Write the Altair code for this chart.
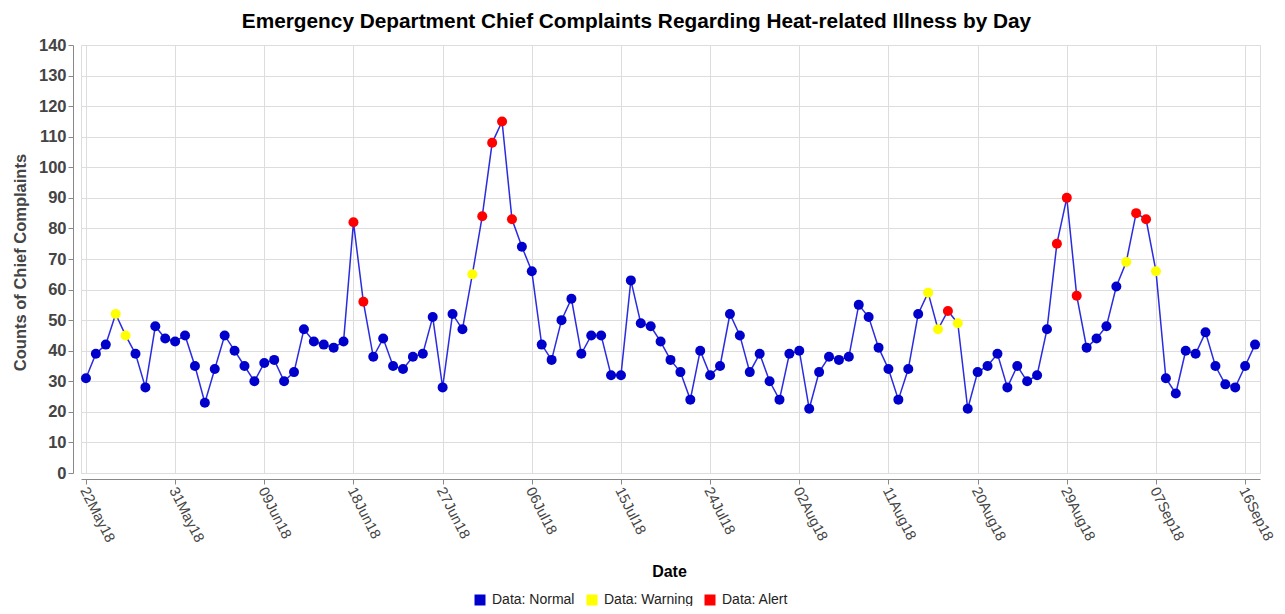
import altair as alt
import pandas as pd

# ---- data ----
start_date = "2018-05-22"
end_date = "2018-09-17"

counts_may = [31, 39, 42, 52, 45, 39, 28, 48, 44, 43]
counts_jun = [45, 35, 23, 34, 45, 40, 35, 30, 36, 37, 30, 33, 47, 43, 42,
              41, 43, 82, 56, 38, 44, 35, 34, 38, 39, 51, 28, 52, 47, 65]
counts_jul = [84, 108, 115, 83, 74, 66, 42, 37, 50, 57, 39, 45, 45, 32, 32,
              63, 49, 48, 43, 37, 33, 24, 40, 32, 35, 52, 45, 33, 39, 30, 24]
counts_aug = [39, 40, 21, 33, 38, 37, 38, 55, 51, 41, 34, 24, 34, 52, 59,
              47, 53, 49, 21, 33, 35, 39, 28, 35, 30, 32, 47, 75, 90, 58, 41]
counts_sep = [44, 48, 61, 69, 85, 83, 66, 31, 26, 40, 39, 46, 35, 29, 28, 35, 42]

warning_dates = ["2018-05-25", "2018-05-26", "2018-06-30", "2018-08-15",
                 "2018-08-16", "2018-08-18", "2018-09-04", "2018-09-07"]
alert_dates = ["2018-06-18", "2018-06-19", "2018-07-01", "2018-07-02",
               "2018-07-03", "2018-07-04", "2018-08-17", "2018-08-28",
               "2018-08-29", "2018-08-30", "2018-09-05", "2018-09-06"]

tick_dates = [(2018, 5, 22), (2018, 5, 31), (2018, 6, 9), (2018, 6, 18),
              (2018, 6, 27), (2018, 7, 6), (2018, 7, 15), (2018, 7, 24),
              (2018, 8, 2), (2018, 8, 11), (2018, 8, 20), (2018, 8, 29),
              (2018, 9, 7), (2018, 9, 16)]
y_ticks = list(range(0, 141, 10))

status_names = ["Data: Normal", "Data: Warning", "Data: Alert"]
status_colors = ["#0000cc", "#ffff00", "#ff0000"]

# ---- table ----
dates = pd.date_range(start_date, end_date, freq="D").strftime("%Y-%m-%d").tolist()
counts = counts_may + counts_jun + counts_jul + counts_aug + counts_sep
status = []
for d in dates:
    if d in alert_dates:
        status.append("Data: Alert")
    elif d in warning_dates:
        status.append("Data: Warning")
    else:
        status.append("Data: Normal")
df = pd.DataFrame({"date": dates, "count": counts, "status": status})

FONT = "Liberation Sans"

x_enc = alt.X(
    "date:T",
    scale=alt.Scale(
        type="utc",
        domain=[alt.DateTime(year=2018, month=5, date=21, hours=12, utc=True),
                alt.DateTime(year=2018, month=9, date=17, hours=12, utc=True)],
    ),
    axis=alt.Axis(
        title="Date",
        values=[alt.DateTime(year=y, month=m, date=d, utc=True) for (y, m, d) in tick_dates],
        labelExpr="utcFormat(datum.value, '%d%b%y')",
        labelAngle=63,
        labelAlign="left",
        labelBaseline="middle",
        labelFont=FONT,
        labelFontSize=14.5,
        labelColor="#444444",
        labelPadding=4,
        labelOffset=-3,
        labelOverlap=False,
        labelBound=False,
        offset=6,
        titleFont=FONT,
        titleFontSize=16,
        titleFontWeight="bold",
        titleColor="#000000",
        titleX=588,
        titleY=92,
        titleAlign="center",
        titleBaseline="middle",
    ),
)
y_enc = alt.Y(
    "count:Q",
    scale=alt.Scale(domain=[0, 140], nice=False, zero=True),
    axis=alt.Axis(
        title="Counts of Chief Complaints",
        values=y_ticks,
        labelFont=FONT,
        labelFontSize=16.5,
        labelFontWeight="bold",
        labelColor="#444444",
        labelPadding=2,
        offset=8,
        titleFont=FONT,
        titleFontSize=16.5,
        titleFontWeight="bold",
        titleColor="#444444",
        titleX=-53,
        titleY=217,
        titleAngle=-90,
        titleAlign="center",
        titleBaseline="middle",
    ),
)

line = alt.Chart(df).mark_line(color="#2b2be0", strokeWidth=1.5).encode(x=x_enc, y=y_enc)

points = alt.Chart(df).mark_circle(size=100, opacity=1).encode(
    x=x_enc,
    y=y_enc,
    color=alt.Color(
        "status:N",
        scale=alt.Scale(domain=status_names, range=status_colors),
        legend=alt.Legend(
            title=None,
            orient="none",
            direction="horizontal",
            legendX=392,
            legendY=548,
            symbolType="square",
            symbolSize=121,
            symbolStrokeWidth=0,
            labelFont=FONT,
            labelFontSize=14,
            labelColor="#222222",
            labelOffset=5,
            columnPadding=10,
            padding=0,
        ),
    ),
)

chart = alt.layer(line, points).properties(
    width=1179,
    height=428,
    autosize=alt.AutoSizeParams(type="none"),
    padding={"left": 73, "top": 37, "right": 17, "bottom": 133},
    title=alt.TitleParams(
        text="Emergency Department Chief Complaints Regarding Heat-related Illness by Day",
        font=FONT,
        fontSize=20.8,
        fontWeight="bold",
        color="#000000",
        anchor="middle",
        dx=-34,
        offset=4,
    ),
).configure_view(
    stroke="#888888", strokeWidth=1
).configure_axis(
    domainColor="#888888",
    tickColor="#888888",
    tickSize=4,
    gridColor="#e2e2e2",
    gridDash=[3, 3],
    gridWidth=1,
).configure(background="white")

chart.save("out.html", embed_options={"renderer": "svg", "actions": False})
